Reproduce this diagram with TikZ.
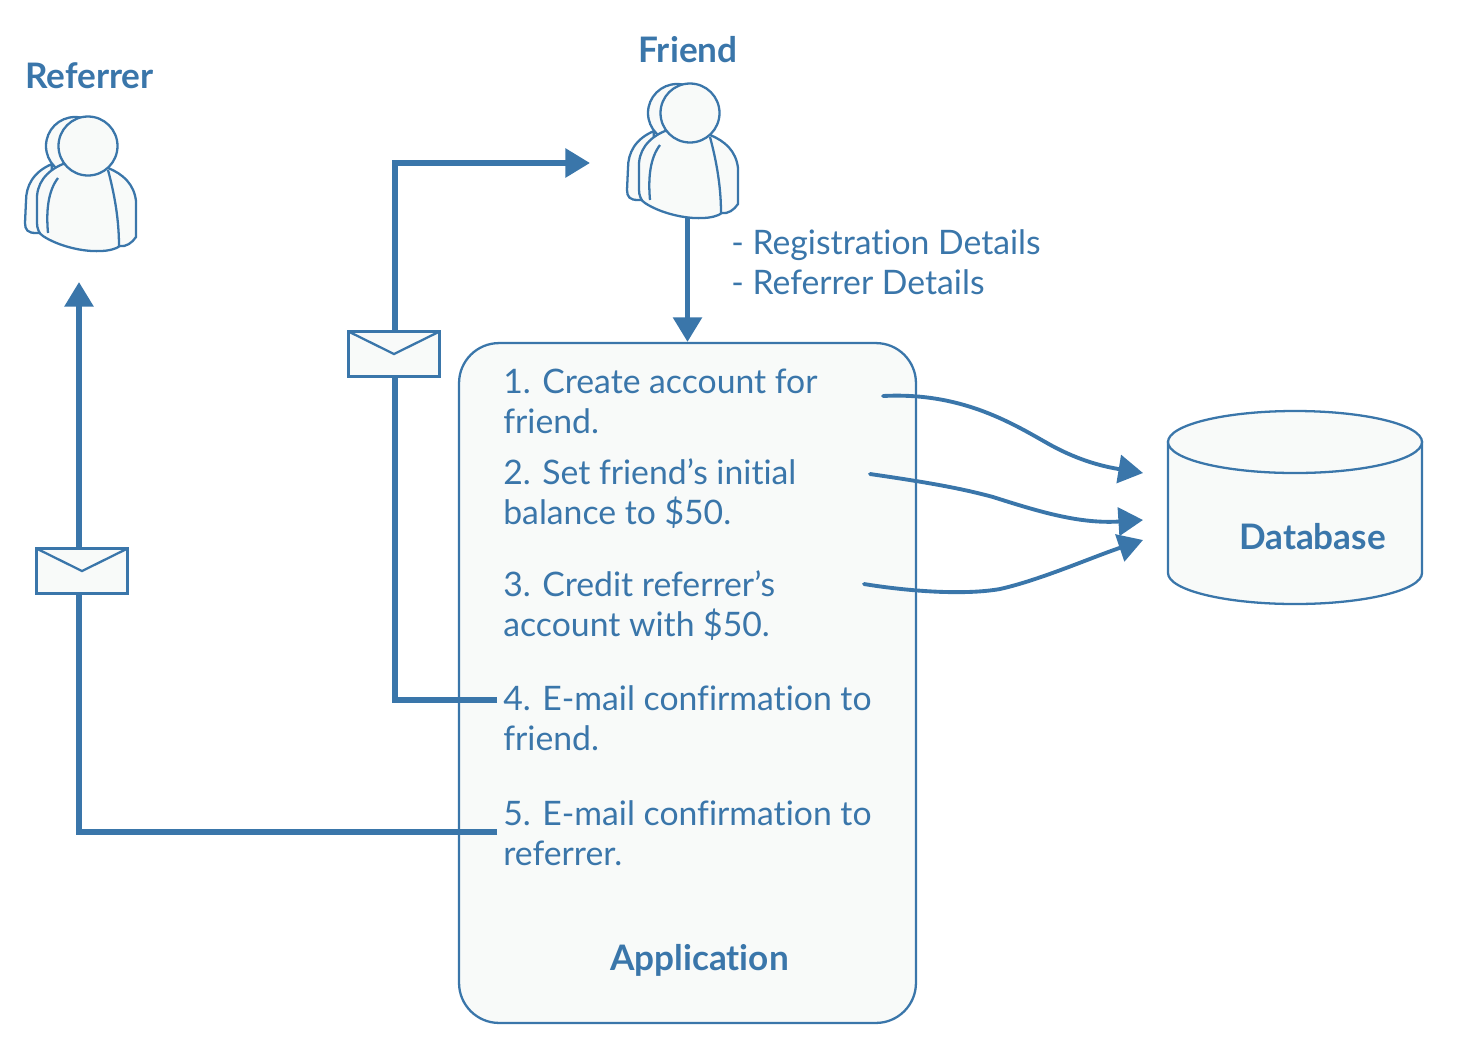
\documentclass[tikz,border=0pt]{standalone}
\usepackage{fontspec}
\setmainfont{Lato}[Ligatures=NoCommon]
\usepackage{xcolor}
\usetikzlibrary{arrows.meta,positioning,calc}
\definecolor{mailblue}{HTML}{3A76AA}
\definecolor{paleback}{HTML}{F8FAF9}

\begin{document}
\begin{tikzpicture}[
    x=0.02cm, y=-0.02cm,
    shapeline/.style={draw=mailblue, line width=1.3pt, fill=paleback},
    appbox/.style={shapeline, rectangle, rounded corners=0.8cm, minimum width=9.14cm, minimum height=13.6cm, inner sep=0pt},
    envelope/.style={rectangle, draw=mailblue, line width=1.7pt, fill=paleback, minimum width=1.82cm, minimum height=0.9cm, inner sep=0pt,
        path picture={\draw[mailblue, line width=1.3pt] (path picture bounding box.north west) -- ($(path picture bounding box.center)+(0,0.02)$) -- (path picture bounding box.north east);}},
    steptext/.style={font=\fontsize{19.2}{22.8}\selectfont, text=mailblue, align=left, anchor=west, inner sep=0pt},
    title/.style={font=\fontsize{20}{24}\selectfont\bfseries, text=mailblue, inner sep=0pt},
    flow/.style={draw=mailblue, line width=3.1pt, -{Triangle[length=14pt,width=16pt]}},
    store/.style={draw=mailblue, line width=2.2pt, line cap=round, -{Triangle[length=14pt,width=16pt]}},
    person/.pic={
        \path[shapeline] (-36,18) .. controls (-55,26) and (-62,40) .. (-62,55) -- (-63,77) .. controls (-63,84) and (-60,87) .. (-52,87) -- (-40,87) -- cycle;
        \path[shapeline] (-13,0) circle [radius=29];
        \path[shapeline] (-25,18) .. controls (-42,25) and (-52,38) .. (-51,55) -- (-51,77) .. controls (-51,82) and (-49,88) .. (-45,90) .. controls (-30,100) and (-5,106) .. (12,105) .. controls (20,105) and (28,103) .. (32,100) .. controls (38,101) and (44,97) .. (48,91) -- (48,55) .. controls (46,38) and (35,28) .. (20,22) -- cycle;
        \draw[mailblue, line width=1.3pt] (-30,32) .. controls (-40,45) and (-42,65) .. (-40,87);
        \draw[mailblue, line width=1.3pt] (20,24) .. controls (27,50) and (31,75) .. (31,100);
        \path[shapeline] (0,0) circle [radius=29.5];
    }
]
    \useasboundingbox (0,0) rectangle (1480,1049);

    % --- PEOPLE ---
    \node[title] (referrer) at (89.5,76) {Referrer};
    \pic at (88,146) {person};
    \node[title] (friend) at (688,50) {Friend};
    \pic at (690,113) {person};
    \coordinate (friendfoot) at (687.5,217);
    \coordinate (referrerin) at (79,282);
    \coordinate (friendin) at (590,163);

    % --- APPLICATION ---
    \node[appbox] (app) at (687.5,683) {};
    \node[steptext] (step1) at (503,401) {1. Create account for\\friend.};
    \node[steptext] (step2) at (503,494) {2. Set friend’s initial\\balance to \$50.};
    \node[steptext] (step3) at (503,606) {3. Credit referrer’s\\account with \$50.};
    \node[steptext] (step4) at (503,718) {4. E-mail confirmation to\\friend.};
    \node[steptext] (step5) at (503,833) {5. E-mail confirmation to\\referrer.};
    \node[title] (applabel) at (699.5,960) {Application};

    % --- DATABASE ---
    \path[shapeline] (1168,442) -- (1168,573) .. controls (1168,590) and (1225,604) .. (1295,604) .. controls (1365,604) and (1422,590) .. (1422,573) -- (1422,442) -- cycle;
    \path[shapeline] (1295,442) ellipse [x radius=127, y radius=31];
    \node[title] (dblabel) at (1312.5,537) {Database};

    \node[steptext, anchor=north west] (details) at (731,229) {- Registration Details\\- Referrer Details};
    \draw[flow] (friendfoot) -- (app.north);

    % mail lines, envelopes go on top
    \coordinate (mailfour) at (497,700);
    \coordinate (mailfive) at (497,832);
    \draw[flow] (mailfour) -| (395,163) -- (friendin);
    \draw[flow] (mailfive) -| (referrerin);
    \node[envelope] (mailfriend) at (394,354) {};
    \node[envelope] (mailreferrer) at (82,571) {};

    % --- WRITES ---
    \coordinate (writeone) at (883,396);
    \coordinate (writetwo) at (870,474);
    \coordinate (writethree) at (864,584);
    \coordinate (dbone) at (1143,473);
    \coordinate (dbtwo) at (1143,520);
    \coordinate (dbthree) at (1143,540);
    \draw[store] (writeone) .. controls (960,392) and (1010,422) .. (1047,443) .. controls (1075,459) and (1100,466) .. (dbone);
    \draw[store] (writetwo) .. controls (925,482) and (960,488) .. (993,497) .. controls (1040,512) and (1080,524) .. (dbtwo);
    \draw[store] (writethree) .. controls (900,590) and (960,596) .. (1000,589) .. controls (1040,580) and (1090,558) .. (dbthree);
\end{tikzpicture}
\end{document}
